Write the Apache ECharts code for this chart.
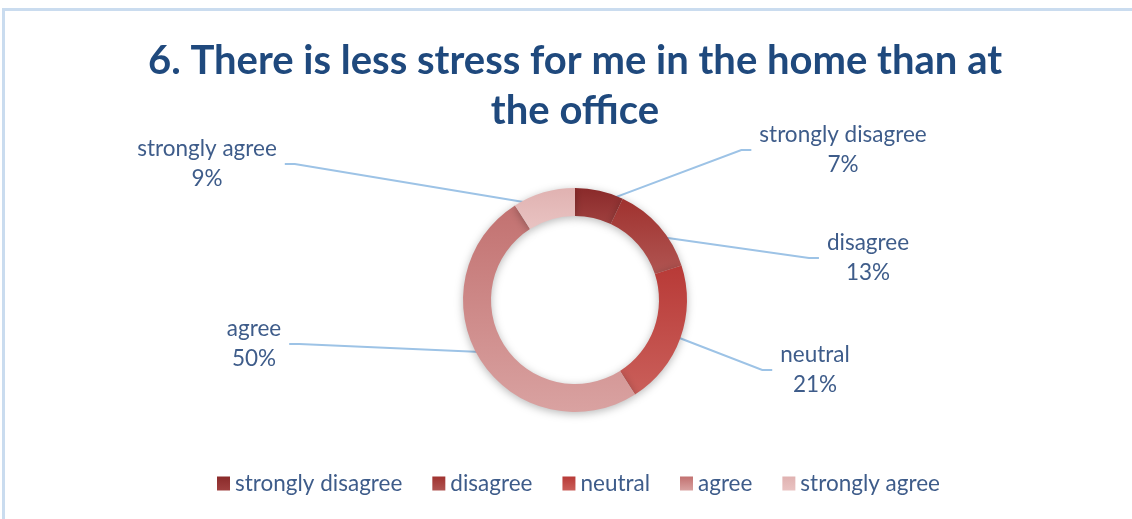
<!DOCTYPE html>
<html>
<head>
<meta charset="utf-8">
<script src="https://cdn.jsdelivr.net/npm/echarts@6/dist/echarts.min.js"></script>
<style>
  html, body { margin: 0; padding: 0; background: #ffffff; }
  #chart { width: 1132px; height: 519px; }
</style>
</head>
<body>
<div id="chart"></div>
<script>
// Survey answers and their shares (percent)
const categories = ['strongly disagree', 'disagree', 'neutral', 'agree', 'strongly agree'];
const shares = [7, 13, 21, 50, 9];
const titleText = '6. There is less stress for me in the home than at\nthe office';

// Slice shading: top and bottom stops of each slice's gradient
const topColors = ['#8a2a2a', '#a0322f', '#b83a37', '#c27170', '#e0b2b1'];
const bottomColors = ['#9f403f', '#b05552', '#ca5f5a', '#d9a2a1', '#e9c3c2'];

// Label block centres, in the order of the categories
const labelSpots = [[843, 150], [868, 258], [815, 370], [254, 344], [207, 164]];

const CX = 575, CY = 300, R_IN = 84, R_OUT = 112;
const FONT = 'Lato, "Noto Sans", sans-serif';
const TEXT = '#3e5c8a';

function sliceFill(i) {
  return new echarts.graphic.LinearGradient(0, 0, 0, 1, [
    { offset: 0, color: topColors[i] },
    { offset: 1, color: bottomColors[i] }
  ]);
}

const seriesData = categories.map((name, i) => ({
  name: name,
  value: shares[i],
  itemStyle: { color: sliceFill(i) }
}));

const chart = echarts.init(document.getElementById('chart'), null, { renderer: 'canvas' });

chart.setOption({
  backgroundColor: '#ffffff',
  animation: false,
  title: {
    text: titleText,
    left: 575,
    textAlign: 'center',
    top: 36,
    padding: 0,
    textStyle: {
      fontFamily: FONT,
      fontSize: 40,
      fontWeight: 'bold',
      color: '#1f497d',
      lineHeight: 50
    }
  },
  legend: {
    data: categories,
    left: 212,
    top: 467,
    icon: 'rect',
    itemWidth: 13,
    itemHeight: 14,
    itemGap: 30,
    textStyle: { fontFamily: FONT, fontSize: 22.5, color: TEXT }
  },
  graphic: [{
    type: 'rect',
    silent: true,
    z: -1,
    shape: { x: 3.5, y: 9.5, width: 1200, height: 600 },
    style: { fill: 'none', stroke: '#cadcef', lineWidth: 3 }
  }],
  series: [{
    type: 'pie',
    center: [CX, CY],
    radius: [R_IN, R_OUT],
    startAngle: 90,
    clockwise: true,
    avoidLabelOverlap: false,
    percentPrecision: 0,
    itemStyle: {
      shadowBlur: 8,
      shadowColor: 'rgba(0,0,0,0.28)',
      shadowOffsetY: 2
    },
    emphasis: { disabled: true },
    label: {
      show: true,
      position: 'outside',
      formatter: '{b}\n{d}%',
      fontFamily: FONT,
      fontSize: 22.5,
      lineHeight: 30,
      color: TEXT,
      align: 'center'
    },
    labelLine: {
      show: true,
      length: 10,
      length2: 10,
      lineStyle: { color: '#9dc3e6', width: 2 }
    },
    labelLayout: function (p) {
      const spot = labelSpots[p.dataIndex];
      const lx = spot[0], ly = spot[1];
      const w = p.labelRect.width;
      const onRight = lx > CX;
      const edge = p.labelLinePoints[0];
      const dx = edge[0] - CX, dy = edge[1] - CY;
      const len = Math.hypot(dx, dy) || 1;
      const rMid = (R_IN + R_OUT) / 2;
      const start = [CX + dx / len * rMid, CY + dy / len * rMid];
      const endX = onRight ? lx - w / 2 - 8 : lx + w / 2 + 8;
      const elbowX = onRight ? endX - 10 : endX + 10;
      return {
        x: lx,
        y: ly,
        align: 'center',
        verticalAlign: 'middle',
        labelLinePoints: [start, [elbowX, ly], [endX, ly]]
      };
    },
    data: seriesData
  }]
});
</script>
</body>
</html>
